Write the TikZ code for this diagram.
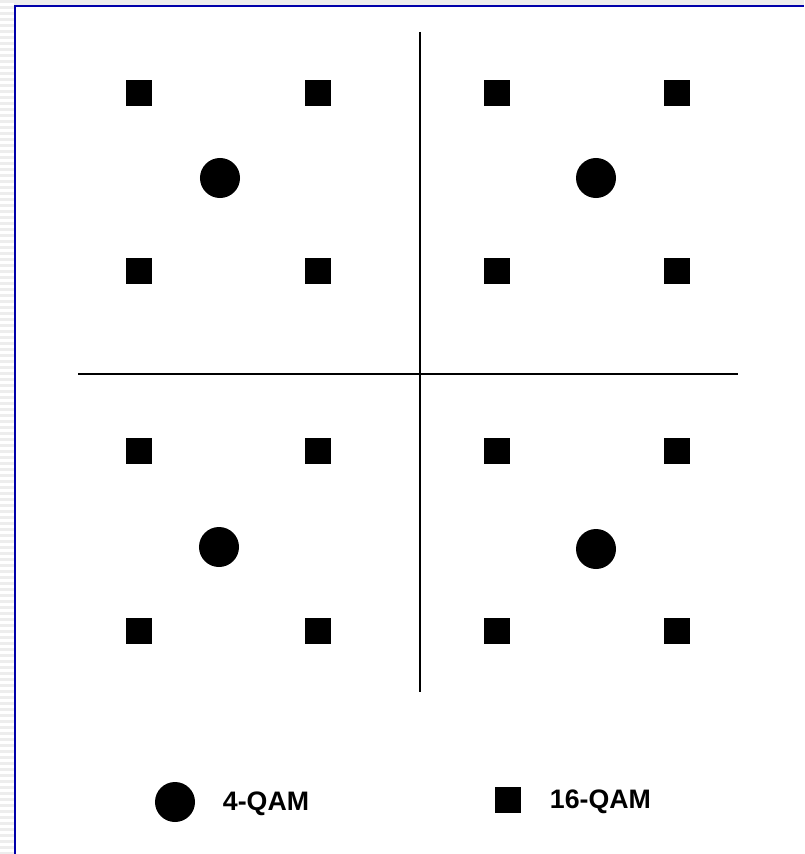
\documentclass[tikz,border=0pt]{standalone}
\usepackage{fontspec}
\setmainfont{Liberation Sans}
\usepackage{tikz}
\usetikzlibrary{positioning,calc}

\begin{document}
\begin{tikzpicture}[x=0.025cm, y=-0.025cm]
        % 定义样式
        \tikzstyle{qsixteen} = [rectangle, fill=black, inner sep=0pt, minimum size=0.65cm]
        \tikzstyle{qfour} = [circle, fill=black, inner sep=0pt, minimum size=1cm]
        \tikzstyle{axis} = [black, line width=1pt]
        \tikzstyle{legend} = [anchor=west, font=\bfseries\fontsize{19}{22}\selectfont]
        \definecolor{frameblue}{RGB}{0,0,170}

        % 背景与边框
        \useasboundingbox (0,0) rectangle (804,854);
        \fill[white] (0,0) rectangle (804,854);
        \foreach \y in {0,6,...,852}
            \fill[black!7] (0,\y) rectangle (14,\y+3);
        \fill[black!7] (14,0) rectangle (804,5);
        \draw[frameblue, line width=2pt] (15,854) -- (15,6) -- (804,6);

        % 坐标轴
        \coordinate (top) at (420,32);
        \coordinate (bottom) at (420,692);
        \coordinate (left) at (78,374);
        \coordinate (right) at (738,374);
        \draw [axis] (top) -- (bottom);
        \draw [axis] (left) -- (right);

        % 16-QAM 点
        \node (s11) [qsixteen] at (139,93) {};
        \node (s12) [qsixteen] at (318,93) {};
        \node (s13) [qsixteen] at (497,93) {};
        \node (s14) [qsixteen] at (677,93) {};
        \node (s21) [qsixteen] at (139,271) {};
        \node (s22) [qsixteen] at (318,271) {};
        \node (s23) [qsixteen] at (497,271) {};
        \node (s24) [qsixteen] at (677,271) {};
        \node (s31) [qsixteen] at (139,451) {};
        \node (s32) [qsixteen] at (318,451) {};
        \node (s33) [qsixteen] at (497,451) {};
        \node (s34) [qsixteen] at (677,451) {};
        \node (s41) [qsixteen] at (139,631) {};
        \node (s42) [qsixteen] at (318,631) {};
        \node (s43) [qsixteen] at (497,631) {};
        \node (s44) [qsixteen] at (677,631) {};

        % 4-QAM 点
        \node (c1) [qfour] at (220,178) {};
        \node (c2) [qfour] at (596,178) {};
        \node (c3) [qfour] at (219,547) {};
        \node (c4) [qfour] at (596,549) {};

        % 图例
        \node (lc) [qfour] at (175,802) {};
        \node (ltext1) [legend] at (218,804) {4-QAM};
        \node (ls) [qsixteen] at (508,800) {};
        \node (ltext2) [legend] at (545,802) {16-QAM};
    \end{tikzpicture}
\end{document}
